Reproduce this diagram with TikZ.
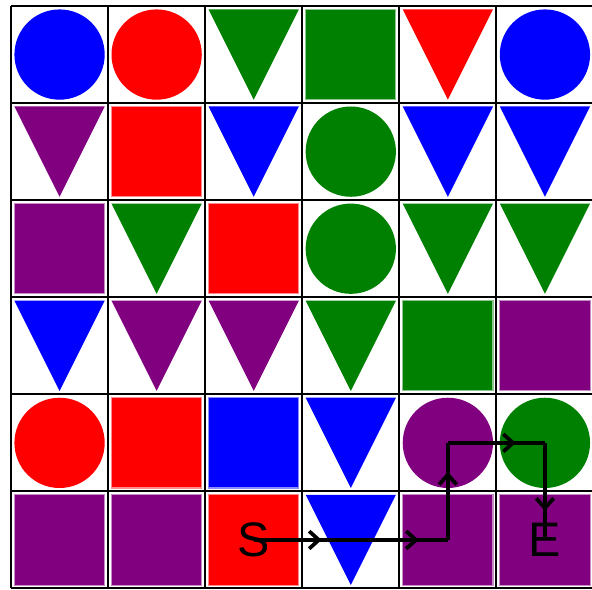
\documentclass[tikz,border=0pt]{standalone}
\usepackage{fontspec}
\setmainfont{Liberation Sans}
\usetikzlibrary{arrows.meta, decorations.markings}
\definecolor{cb}{HTML}{0000FF}
\definecolor{cr}{HTML}{FF0000}
\definecolor{cg}{HTML}{008000}
\definecolor{cp}{HTML}{800080}
\tikzset{
  gridline/.style = {draw=black, line width=0.6pt},
  label/.style    = {inner sep=0pt, font=\fontsize{14.2}{16}\selectfont},
  pathseg/.style  = {line width=1.25pt, postaction={decorate},
                     decoration={markings, mark=at position 0.7 with
                       {\arrow{Straight Barb[length=1mm, width=1.8mm, line width=1.1pt]}}}}
}
% one macro per cell shape, drawn round the cell centre
\newcommand{\cellci}[1]{\fill[#1] (0,0) circle[radius=0.465];}
\newcommand{\cellsq}[1]{\filldraw[fill=#1, draw=#1!45, line width=0.3pt]
  (-0.465,-0.465) rectangle (0.465,0.465);}
\newcommand{\celltr}[1]{\fill[#1] (-0.465,0.465) -- (0.465,0.465) -- (0,-0.465) -- cycle;}
\begin{document}
\begin{tikzpicture}
  \useasboundingbox (-0.1136,0.062) rectangle (5.985,-6.011);
  \foreach \row [count=\r from 0] in {
      {cb/ci,cr/ci,cg/tr,cg/sq,cr/tr,cb/ci},
      {cp/tr,cr/sq,cb/tr,cg/ci,cb/tr,cb/tr},
      {cp/sq,cg/tr,cr/sq,cg/ci,cg/tr,cg/tr},
      {cb/tr,cp/tr,cp/tr,cg/tr,cg/sq,cp/sq},
      {cr/ci,cr/sq,cb/sq,cb/tr,cp/ci,cg/ci},
      {cp/sq,cp/sq,cr/sq,cb/tr,cp/sq,cp/sq}} {
    \foreach \clr/\shp [count=\c from 0] in \row {
      \coordinate (cell-\c-\r) at (\c+0.5,-\r-0.5);
      \begin{scope}[shift={(cell-\c-\r)}]
        \csname cell\shp\endcsname{\clr}
      \end{scope}
    }
  }
  \draw[gridline] (0,-6) grid (6,0);

  \node[label] (start) at (cell-2-5) {S};
  \node[label] (goal)  at (cell-5-5) {E};

  \draw[pathseg] (start.center) -- (cell-3-5);
  \draw[pathseg] (cell-3-5) -- (cell-4-5);
  \draw[pathseg] (cell-4-5) -- (cell-4-4);
  \draw[pathseg] (cell-4-4) -- (cell-5-4);
  \draw[pathseg] (cell-5-4) -- (goal.center);
\end{tikzpicture}
\end{document}
